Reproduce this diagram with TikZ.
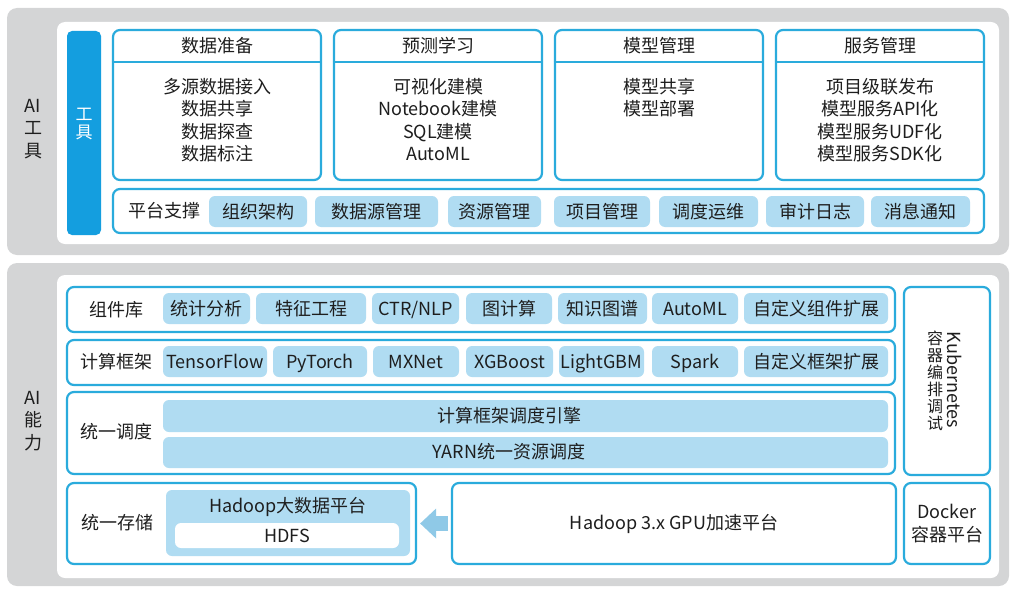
\documentclass[tikz,border=0pt]{standalone}
\usepackage{fontspec}
\setmainfont{Noto Sans CJK SC}
\usetikzlibrary{arrows.meta}
\definecolor{cyanb}{HTML}{2AABDC}
\definecolor{pill}{HTML}{B0DCF2}
\definecolor{barblue}{HTML}{149EDF}
\definecolor{panel}{HTML}{D4D5D6}
\definecolor{arrowc}{HTML}{8FC9E7}
\definecolor{txt}{HTML}{1E1E1E}
\newcommand\mkbox[7]{\node[#2,minimum width={#5-#3},minimum height={#6-#4},inner sep=0pt] (#1) at ({(#3+#5)/2},{(#4+#6)/2}) {#7};}
\tikzset{
  pnl/.style={fill=panel,rounded corners=10pt,draw=none},
  wbox/.style={fill=white,rounded corners=8pt,draw=none},
  frm/.style={draw=cyanb,line width=2.2pt,rounded corners=7pt,fill=white},
  pil/.style={fill=pill,rounded corners=6pt,draw=none,text=txt,font=\fontsize{18}{22}\selectfont,text height=15.5pt,text depth=2pt},
  lbl/.style={text=txt,align=center,inner sep=0pt,font=\fontsize{18}{22.5}\selectfont},
  sepline/.style={draw=cyanb,line width=2.2pt},
}
\begin{document}
\begin{tikzpicture}[x=1pt,y=-1pt]
\useasboundingbox (0,0) rectangle (1014,594);
% ---------- top panel ----------
\mkbox{gtop}{pnl}{7}{8}{1009}{255}{}
\mkbox{wtop}{wbox}{57}{22}{999}{244}{}
\node[lbl] (ailab1) at (33,129) {AI\\工\\具};
\mkbox{toolbar}{fill=barblue,rounded corners=5pt,draw=none}{67}{31}{101}{235}{}
\node[lbl,text=white,font=\fontsize{17}{18}\selectfont] (tooltxt) at (84,124) {工\\具};
% columns
\mkbox{c1}{frm}{113}{30}{321}{180}{}
\mkbox{c2}{frm}{334}{30}{542}{180}{}
\mkbox{c3}{frm}{555}{30}{763}{180}{}
\mkbox{c4}{frm}{776}{30}{984}{180}{}
\coordinate (hl) at (0,62);
\foreach \c in {c1,c2,c3,c4}{\draw[sepline] (\c.west |- hl) -- (\c.east |- hl);}
\node[lbl] (h1) at (217,46) {数据准备};
\node[lbl] (h2) at (438,46) {预测学习};
\node[lbl] (h3) at (659,46) {模型管理};
\node[lbl] (h4) at (880,46) {服务管理};
\node[lbl,anchor=north] (t1) at (217,78) {多源数据接入\\数据共享\\数据探查\\数据标注};
\node[lbl,anchor=north] (t2) at (438,78) {可视化建模\\Notebook建模\\SQL建模\\AutoML};
\node[lbl,anchor=north] (t3) at (659,78) {模型共享\\模型部署};
\node[lbl,anchor=north] (t4) at (880,78) {项目级联发布\\模型服务API化\\模型服务UDF化\\模型服务SDK化};
% platform row
\mkbox{prow}{frm}{113}{189}{984}{233}{}
\node[lbl] (plab) at (164,211) {平台支撑};
\mkbox{p1}{pil}{209}{196}{307}{227}{组织架构}
\mkbox{p2}{pil}{315}{196}{438}{227}{数据源管理}
\mkbox{p3}{pil}{448}{196}{541}{227}{资源管理}
\mkbox{p4}{pil}{554}{196}{650}{227}{项目管理}
\mkbox{p5}{pil}{659}{196}{758}{227}{调度运维}
\mkbox{p6}{pil}{766}{196}{864}{227}{审计日志}
\mkbox{p7}{pil}{871}{196}{970}{227}{消息通知}
% ---------- bottom panel ----------
\mkbox{gbot}{pnl}{7}{263}{1009}{586}{}
\mkbox{wbot}{wbox}{57}{275}{999}{578}{}
\node[lbl] (ailab2) at (33,421) {AI\\能\\力};
% component row
\mkbox{crow}{frm}{67}{287}{895}{332}{}
\node[lbl] (clab) at (116,310) {组件库};
\mkbox{k1}{pil}{163}{293}{250}{324}{统计分析}
\mkbox{k2}{pil}{256}{293}{366}{324}{特征工程}
\mkbox{k3}{pil}{372}{293}{459}{324}{CTR/NLP}
\mkbox{k4}{pil}{466}{293}{552}{324}{图计算}
\mkbox{k5}{pil}{558}{293}{647}{324}{知识图谱}
\mkbox{k6}{pil}{652}{293}{738}{324}{AutoML}
\mkbox{k7}{pil}{744}{293}{888}{324}{自定义组件扩展}
% framework row
\mkbox{frow}{frm}{67}{340}{895}{385}{}
\node[lbl] (flab) at (116,362) {计算框架};
\mkbox{f1}{pil}{163}{346}{267}{377}{TensorFlow}
\mkbox{f2}{pil}{273}{346}{367}{377}{PyTorch}
\mkbox{f3}{pil}{373}{346}{459}{377}{MXNet}
\mkbox{f4}{pil}{466}{346}{553}{377}{XGBoost}
\mkbox{f5}{pil}{559}{346}{644}{377}{LightGBM}
\mkbox{f6}{pil}{652}{346}{738}{377}{Spark}
\mkbox{f7}{pil}{744}{346}{888}{377}{自定义框架扩展}
% scheduling
\mkbox{srow}{frm}{67}{392}{895}{474}{}
\node[lbl] (slab) at (116,432) {统一调度};
\mkbox{b1}{pil}{163}{400}{888}{432}{}
\mkbox{b2}{pil}{163}{437}{888}{468}{}
\node[lbl] (b1t) at (509,416) {计算框架调度引擎};
\node[lbl] (b2t) at (509,452) {YARN统一资源调度};
% storage
\mkbox{strow}{frm}{67}{483}{416}{564}{}
\node[lbl] (stlab) at (117,523) {统一存储};
\mkbox{hbox}{pil}{166}{490}{410}{556}{}
\node[lbl] (htxt) at (288,507) {Hadoop大数据平台};
\mkbox{hdfs}{fill=white,rounded corners=6pt,draw=none,lbl}{175}{523}{399}{548}{HDFS}
\mkbox{gpu}{frm,lbl}{452}{483}{896}{564}{Hadoop 3.x GPU加速平台}
% right column
\mkbox{k8s}{frm}{904}{287}{990}{475}{}
\node[lbl,rotate=-90] (k8a) at (955,380) {Kubernetes};
\node[lbl,font=\fontsize{16}{17}\selectfont] (k8b) at (935,381) {容\\器\\编\\排\\调\\试};
\mkbox{docker}{frm,lbl}{904}{483}{990}{564}{Docker\\容器平台}
% arrow
\draw[arrowc,line width=15pt,-{Triangle[width=29pt,length=16pt]},shorten <=3pt,shorten >=3pt] (gpu.west) -- (strow.east);
\end{tikzpicture}
\end{document}
